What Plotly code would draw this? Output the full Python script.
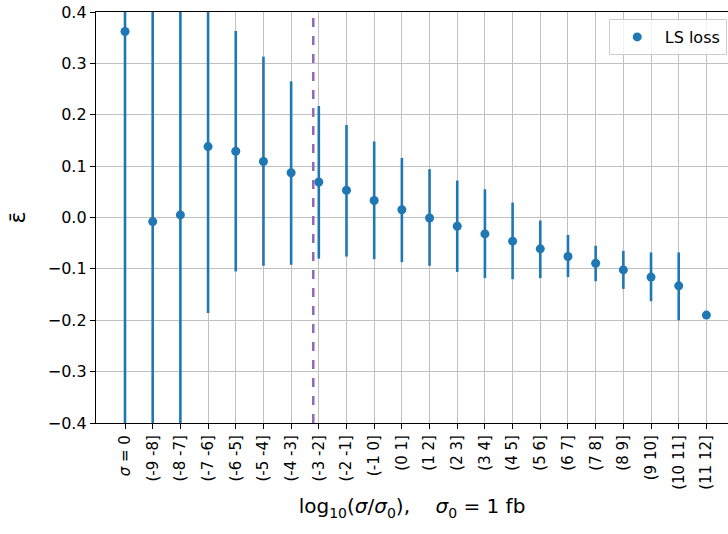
import plotly.graph_objects as go

categories = ["<i>σ</i> = 0", "(-9 -8]", "(-8 -7]", "(-7 -6]", "(-6 -5]", "(-5 -4]", "(-4 -3]",
              "(-3 -2]", "(-2 -1]", "(-1 0]", "(0 1]", "(1 2]", "(2 3]", "(3 4]", "(4 5]",
              "(5 6]", "(6 7]", "(7 8]", "(8 9]", "(9 10]", "(10 11]", "(11 12]"]
eps_mean = [0.362, -0.008, 0.005, 0.138, 0.129, 0.109, 0.087, 0.069, 0.053, 0.033, 0.015,
            -0.001, -0.017, -0.032, -0.046, -0.061, -0.076, -0.089, -0.102, -0.116, -0.133, -0.190]
eps_upper = [0.90, 0.60, 0.60, 0.45, 0.363, 0.313, 0.265, 0.217, 0.180, 0.148, 0.116,
             0.094, 0.072, 0.055, 0.029, -0.006, -0.034, -0.055, -0.065, -0.068, -0.068, -0.190]
eps_lower = [-0.60, -0.60, -0.60, -0.186, -0.105, -0.094, -0.092, -0.080, -0.076, -0.081, -0.087,
             -0.094, -0.106, -0.118, -0.120, -0.118, -0.116, -0.124, -0.139, -0.163, -0.200, -0.190]
threshold_pos = 6.8
y_ticks = [-0.4, -0.3, -0.2, -0.1, 0.0, 0.1, 0.2, 0.3, 0.4]

idx = list(range(len(categories)))
err_plus = [u - m for u, m in zip(eps_upper, eps_mean)]
err_minus = [m - l for m, l in zip(eps_mean, eps_lower)]

FONT = "DejaVu Sans"
BLUE = "#1f77b4"

fig = go.Figure()
fig.add_trace(go.Scatter(
    x=idx, y=eps_mean, mode="markers", name="LS loss",
    marker=dict(color=BLUE, size=9),
    error_y=dict(type="data", array=err_plus, arrayminus=err_minus,
                 color=BLUE, thickness=2.6, width=0, symmetric=False),
))
fig.add_vline(x=threshold_pos, line=dict(color="#9467bd", width=2.5, dash="dash"))

fig.update_layout(
    width=728, height=534,
    margin=dict(l=96, r=0, t=12, b=111),
    paper_bgcolor="white", plot_bgcolor="white",
    font=dict(family=FONT, size=16, color="black"),
    showlegend=True,
    legend=dict(x=0.998, y=0.983, xanchor="right", yanchor="top",
                bgcolor="rgba(255,255,255,0.8)", bordercolor="#cccccc", borderwidth=1,
                font=dict(size=16, family=FONT), itemwidth=45,
                tracegroupgap=0),
)
fig.update_xaxes(
    range=[-1.048, 21.78],
    tickmode="array", tickvals=idx, ticktext=categories, tickangle=-90,
    tickfont=dict(size=15, family=FONT),
    showgrid=True, gridcolor="#c0c0c0", gridwidth=1.4,
    showline=True, linecolor="black", linewidth=1.3, mirror=True,
    ticks="outside", ticklen=5, tickcolor="black", zeroline=False,
    title=dict(text="log<sub>10</sub>(<i>σ</i>/<i>σ</i><sub>0</sub>),    <i>σ</i><sub>0</sub> = 1 fb",
               font=dict(size=20, family=FONT), standoff=10),
)
fig.update_yaxes(
    range=[-0.4, 0.4],
    tickmode="array", tickvals=y_ticks, tickformat=".1f",
    tickfont=dict(size=16, family=FONT),
    showgrid=True, gridcolor="#c0c0c0", gridwidth=1.4,
    showline=True, linecolor="black", linewidth=1.3, mirror=False,
    ticks="outside", ticklen=5, tickcolor="black", zeroline=False,
    title=dict(text="ε̄", font=dict(size=22, family=FONT), standoff=16),
)

fig.write_html("out.html")
